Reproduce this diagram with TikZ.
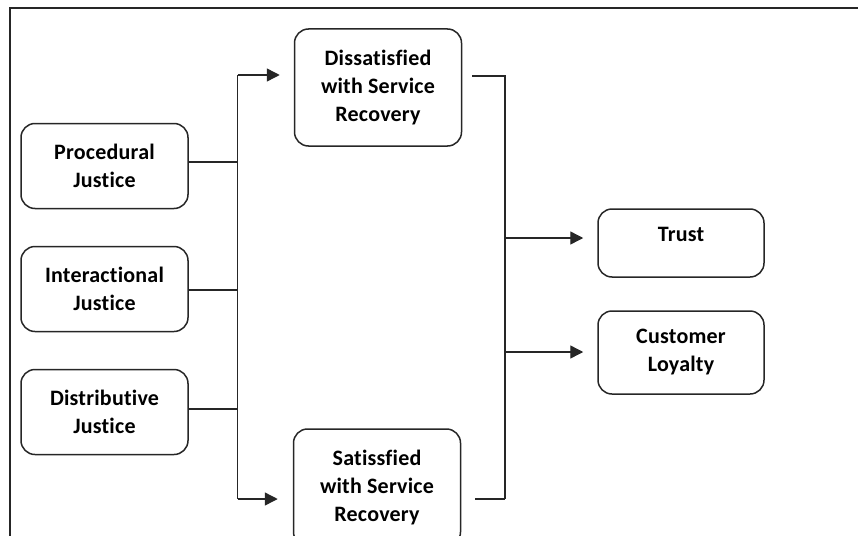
\documentclass[tikz,border=0pt]{standalone}
\usepackage{fontspec}
\setmainfont{Carlito}[Ligatures={NoCommon},LetterSpace=1]
\usetikzlibrary{arrows.meta}
\begin{document}
\begin{tikzpicture}[x=1pt,y=-1pt,
  line/.style={draw=black!85,line width=1.4pt},
  txt/.style={font=\bfseries\fontsize{22}{28}\selectfont},
  box/.style={draw=black!85,line width=1.5pt,rounded corners=14pt,align=center,
    txt,inner sep=0pt},
  lbox/.style={box,minimum width=167pt,minimum height=85pt},
  mbox/.style={box,minimum width=167pt,minimum height=117pt},
  rbox/.style={box,minimum width=166pt},
  arr/.style={line,-{Triangle[length=13pt,width=13pt]}}]
\useasboundingbox (0,0) rectangle (858,535);
\clip (0,0) rectangle (858,535);
% frame
\draw[line] (10,540) -- (10,8) -- (860,8);
% left boxes
\node[lbox] (proc) at (104.5,166) {Procedural\\Justice};
\node[lbox] (inter) at (104.5,289) {Interactional\\Justice};
\node[lbox] (dist) at (104.5,412) {Distributive\\Justice};
% middle boxes
\node[mbox] (dis) at (378,87.5) {Dissatisfied\\with Service\\Recovery};
\node[mbox] (sat) at (377,487.5) {Satissfied\\with Service\\Recovery};
% right boxes
\node[rbox,minimum height=68pt] (trust) at (681,243) {};
\node[txt] (trustt) at (681,234) {Trust};
\node[rbox,minimum height=83pt] (loy) at (681,352.5) {Customer\\Loyalty};
% left bus
\coordinate (lTop) at (237.5,75);
\coordinate (lBot) at (237.5,499);
\draw[line] ([yshift=4pt]proc.east) -- ([yshift=4pt]proc.east -| lTop);
\draw[line] ([yshift=-1pt]inter.east) -- ([yshift=-1pt]inter.east -| lTop);
\draw[line] ([yshift=3pt]dist.east) -- ([yshift=3pt]dist.east -| lTop);
\draw[line] (lTop) -- (lBot);
\draw[arr,shorten >=14pt] (lTop) -- (lTop -| dis.west);
\draw[arr,shorten >=15pt] (lBot) -- (lBot -| sat.west);
% right bus
\coordinate (rTop) at (505,76);
\coordinate (rBot) at (505,499);
\coordinate (rT) at (505,238);
\coordinate (rL) at (505,352);
\draw[line,shorten <=10pt] (rTop -| dis.east) -- (rTop) -- (rBot);
\draw[line,shorten <=14pt] (rBot -| sat.east) -- (rBot);
\draw[arr,shorten >=14pt] (rT) -- (rT -| trust.west);
\draw[arr,shorten >=14pt] (rL) -- (rL -| loy.west);
\end{tikzpicture}
\end{document}
